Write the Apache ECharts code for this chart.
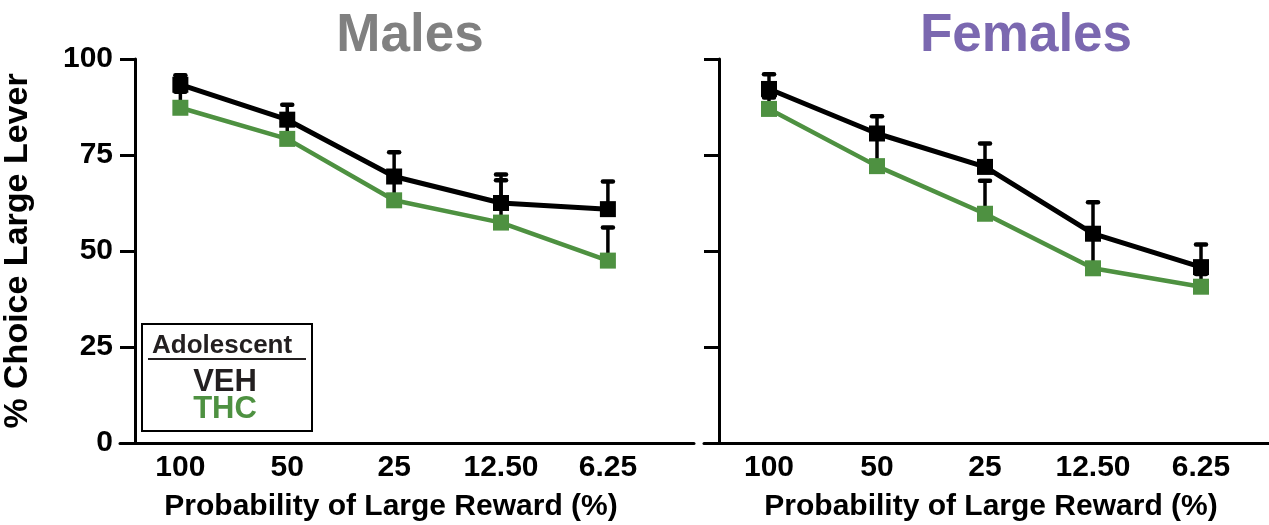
<!DOCTYPE html>
<html><head><meta charset="utf-8">
<script src="https://cdn.jsdelivr.net/npm/echarts@6/dist/echarts.min.js"></script>
<style>html,body{margin:0;padding:0;background:#fff}#c{width:1269px;height:525px}</style>
</head><body><div id="c"></div>
<script>
const categories = ['100', '50', '25', '12.50', '6.25'];
const yTicks = [0, 25, 50, 75, 100];
const malesVEH = [93.3, 84.2, 69.4, 62.5, 60.9];
const malesVEHErr = [2.5, 3.9, 6.3, 7.4, 7.2];
const malesTHC = [87.3, 79.2, 63.2, 57.4, 47.5];
const malesTHCErr = [4.2, 4.3, 6.8, 11.0, 8.6];
const femalesVEH = [92.2, 80.6, 71.9, 54.5, 45.8];
const femalesVEHErr = [3.8, 4.5, 6.1, 8.2, 5.9];
const femalesTHC = [87.0, 72.1, 59.7, 45.5, 40.7];
const femalesTHCErr = [3.0, 7.9, 8.6, 8.5, 3.3];

const FONT = "'Liberation Sans', Arial, sans-serif";
const GREEN = '#4e9141';
const catIdx = categories.map((c, i) => i);

function pts(vals) { return vals.map((v, i) => [i, v]); }
function errPts(vals, errs) { return vals.map((v, i) => [i, v, errs[i]]); }

function errRender(params, api) {
  const x = api.value(0), m = api.value(1), e = api.value(2);
  const p0 = api.coord([x, m]);
  const p1 = api.coord([x, m + e]);
  const hw = 5;
  return {
    type: 'group',
    children: [
      { type: 'line', shape: { x1: p0[0], y1: p0[1], x2: p1[0], y2: p1[1] }, style: { stroke: '#000', lineWidth: 3.5 } },
      { type: 'line', shape: { x1: p1[0] - hw, y1: p1[1], x2: p1[0] + hw, y2: p1[1] }, style: { stroke: '#000', lineWidth: 4.5, lineCap: 'round' } }
    ]
  };
}

function xAxisCfg(gi, min, max) {
  return {
    type: 'value', gridIndex: gi, min: min, max: max,
    axisLine: { show: true, onZero: false, lineStyle: { color: '#000', width: 3 } },
    axisTick: { show: false },
    splitLine: { show: false },
    axisLabel: {
      customValues: catIdx,
      formatter: v => categories[Math.round(v)],
      color: '#000', fontFamily: FONT, fontWeight: 'bold', fontSize: 30, margin: 10
    }
  };
}
function yAxisCfg(gi, showLabels) {
  return {
    type: 'value', gridIndex: gi, min: 0, max: 100, interval: 25, offset: -15,
    axisLine: { show: true, onZero: false, lineStyle: { color: '#000', width: 3 } },
    axisTick: { show: true, length: 15, lineStyle: { color: '#000', width: 3 } },
    splitLine: { show: false },
    axisLabel: {
      show: showLabels, color: '#000', fontFamily: FONT, fontWeight: 'bold', fontSize: 30, margin: 22,
      customValues: yTicks
    },
    name: showLabels ? '% Choice Large Lever' : '',
    nameLocation: 'middle', nameGap: 100, nameRotate: 90,
    nameTextStyle: { color: '#000', fontFamily: FONT, fontWeight: 'bold', fontSize: 34 }
  };
}
function lineSeries(name, vals, xi, color, z, lw) {
  return {
    type: 'line', name: name, xAxisIndex: xi, yAxisIndex: xi, data: pts(vals), z: z,
    symbol: 'rect', symbolSize: 16, showSymbol: true,
    lineStyle: { color: color, width: lw }, itemStyle: { color: color },
    emphasis: { disabled: true }, animation: false
  };
}
function errSeries(vals, errs, xi) {
  return {
    type: 'custom', xAxisIndex: xi, yAxisIndex: xi, z: 1,
    data: errPts(vals, errs), encode: { x: 0, y: 1 }, renderItem: errRender, animation: false
  };
}

const chart = echarts.init(document.getElementById('c'));
chart.setOption({
  backgroundColor: '#fff',
  animation: false,
  title: [
    { text: 'Males', left: 405, top: 5, textAlign: 'center', textStyle: { color: '#808080', fontFamily: FONT, fontWeight: 'bold', fontSize: 53 } },
    { text: 'Females', left: 1021, top: 5, textAlign: 'center', textStyle: { color: '#7b68b0', fontFamily: FONT, fontWeight: 'bold', fontSize: 53 } },
    { text: 'Probability of Large Reward (%)', left: 386, top: 487, textAlign: 'center', textStyle: { color: '#000', fontFamily: FONT, fontWeight: 'bold', fontSize: 30 } },
    { text: 'Probability of Large Reward (%)', left: 986, top: 487, textAlign: 'center', textStyle: { color: '#000', fontFamily: FONT, fontWeight: 'bold', fontSize: 30 } }
  ],
  grid: [
    { left: 114, right: 575, top: 59, bottom: 82 },
    { left: 704, right: 0, top: 59, bottom: 82 }
  ],
  xAxis: [xAxisCfg(0, -0.5648, 4.8056), xAxisCfg(1, -0.6019, 4.6296)],
  yAxis: [yAxisCfg(0, true), yAxisCfg(1, false)],
  series: [
    errSeries(malesVEH, malesVEHErr, 0),
    errSeries(malesTHC, malesTHCErr, 0),
    errSeries(femalesVEH, femalesVEHErr, 1),
    errSeries(femalesTHC, femalesTHCErr, 1),
    lineSeries('THC', malesTHC, 0, GREEN, 2, 4.5),
    lineSeries('VEH', malesVEH, 0, '#000', 3, 5),
    lineSeries('THC', femalesTHC, 1, GREEN, 2, 4.5),
    lineSeries('VEH', femalesVEH, 1, '#000', 3, 5)
  ],
  graphic: [
    { type: 'rect', shape: { x: 142, y: 324, width: 170, height: 107 }, style: { fill: '#fff', stroke: '#000', lineWidth: 2 }, z: 10 },
    { type: 'text', x: 152, y: 346, style: { text: 'Adolescent', fill: '#231f20', font: "bold 26px 'Liberation Sans', Arial, sans-serif", textVerticalAlign: 'middle' }, z: 11 },
    { type: 'line', shape: { x1: 148, y1: 359, x2: 306, y2: 359 }, style: { stroke: '#231f20', lineWidth: 2 }, z: 11 },
    { type: 'text', x: 225, y: 382, style: { text: 'VEH', fill: '#231f20', font: "bold 31px 'Liberation Sans', Arial, sans-serif", textAlign: 'center', textVerticalAlign: 'middle' }, z: 11 },
    { type: 'text', x: 225, y: 409, style: { text: 'THC', fill: GREEN, font: "bold 31px 'Liberation Sans', Arial, sans-serif", textAlign: 'center', textVerticalAlign: 'middle' }, z: 11 }
  ]
});
</script></body></html>
